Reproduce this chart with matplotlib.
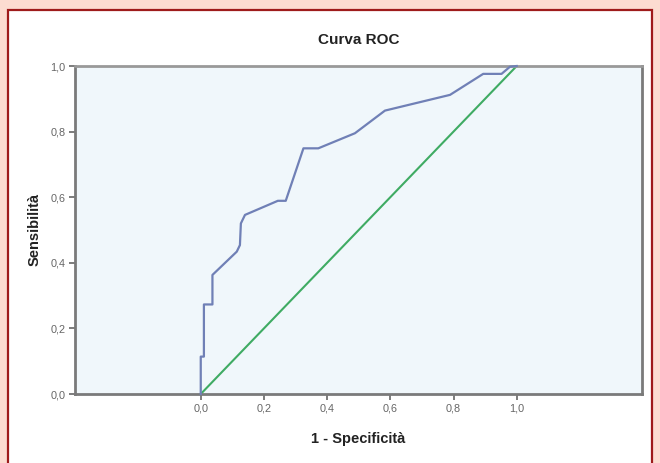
import matplotlib
matplotlib.use("Agg")
import matplotlib.pyplot as plt
from matplotlib.patches import Rectangle

plt.rcParams['font.family'] = ['Liberation Sans', 'DejaVu Sans']

# ROC curve points (1 - specificity, sensitivity)
fpr = [0.0, 0.0, 0.010, 0.010, 0.037, 0.037, 0.114, 0.124, 0.127, 0.140,
       0.244, 0.269, 0.325, 0.372, 0.488, 0.583, 0.789, 0.894, 0.952, 0.979, 1.0]
tpr = [0.0, 0.114, 0.114, 0.273, 0.273, 0.363, 0.434, 0.454, 0.520, 0.546,
       0.589, 0.589, 0.749, 0.749, 0.795, 0.864, 0.912, 0.976, 0.976, 0.998, 1.0]

# Reference line (chance)
ref_x = [0.0, 1.0]
ref_y = [0.0, 1.0]

tick_values = [0.0, 0.2, 0.4, 0.6, 0.8, 1.0]
tick_labels = ["0,0", "0,2", "0,4", "0,6", "0,8", "1,0"]

fig = plt.figure(figsize=(6.6, 4.63), dpi=100)
fig.patch.set_facecolor("#fcdcd1")

# white framed panel behind the chart
panel = Rectangle((8 / 660, -0.05), (652 - 8) / 660, 1 - 10 / 463 + 0.05,
                  transform=fig.transFigure, facecolor="white",
                  edgecolor="#9e1b1b", linewidth=1.6, zorder=-10)
fig.patches.append(panel)

ax = fig.add_axes([75 / 660, 1 - 394 / 463, (641.5 - 75) / 660, (394 - 66) / 463])
ax.set_zorder(5)
ax.set_facecolor("#f0f7fb")

ax.plot(ref_x, ref_y, color="#3fab63", linewidth=1.5, zorder=2)
ax.plot(fpr, tpr, color="#7080b6", linewidth=1.6, zorder=3, clip_on=False)

ax.set_xlim(-0.398, 1.395)
ax.set_ylim(0.0, 1.0)

ax.set_xticks(tick_values)
ax.set_xticklabels(tick_labels)
ax.set_yticks(tick_values)
ax.set_yticklabels(tick_labels)

ax.tick_params(axis="both", direction="out", length=4, width=1.2,
               color="#666666", labelcolor="#666666", labelsize=7.8, pad=3)

for side, spine in ax.spines.items():
    spine.set_color("#7a7a7a")
    spine.set_linewidth(2.0)
ax.spines["top"].set_color("#999999")

ax.set_title("Curva ROC", fontsize=11, fontweight="bold", color="#222222", pad=16)
ax.set_xlabel("1 - Specificità", fontsize=10.5, fontweight="bold", color="#222222", labelpad=13)
ax.set_ylabel("Sensibilità", fontsize=10.5, fontweight="bold", color="#222222", labelpad=6)

fig.savefig("out.png", dpi=100, facecolor=fig.get_facecolor())
